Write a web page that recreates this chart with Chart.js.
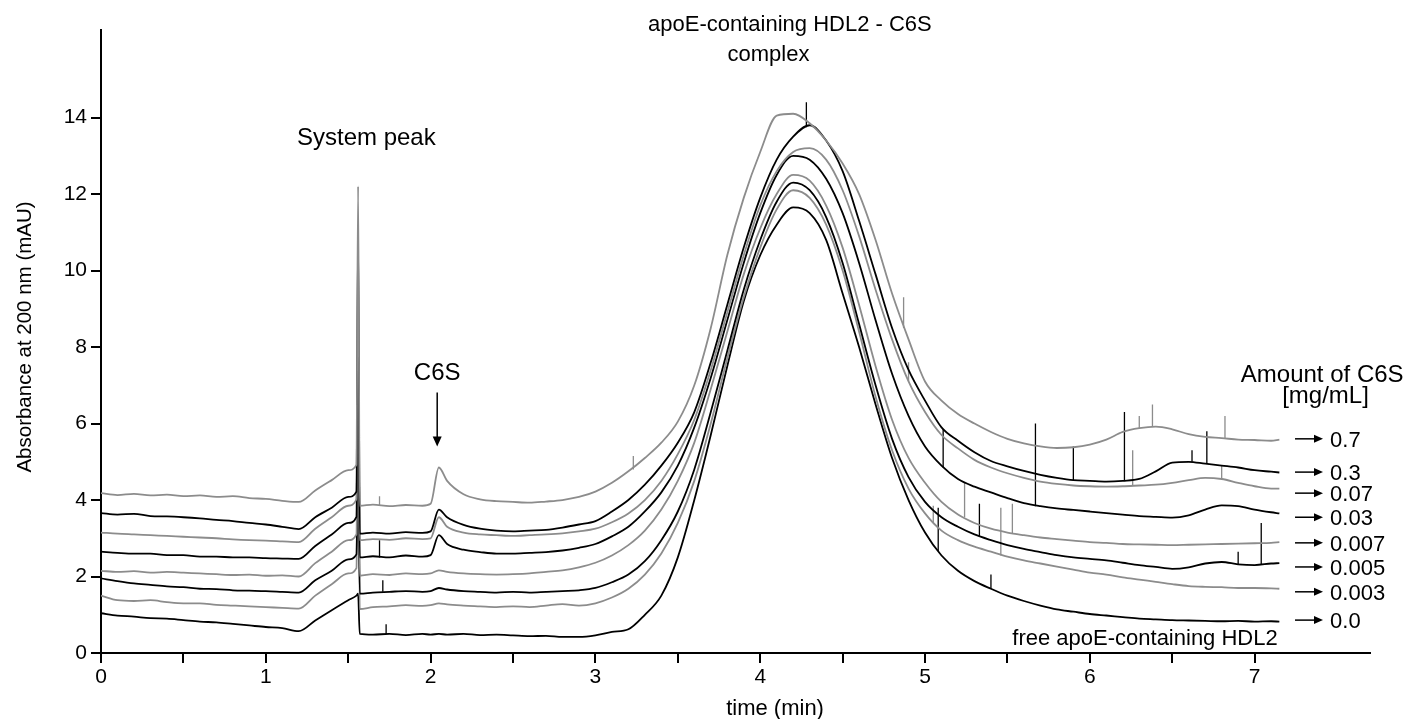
<!DOCTYPE html>
<html>
<head>
<meta charset="utf-8">
<title>apoE-containing HDL2 - C6S</title>
<script src="https://cdn.jsdelivr.net/npm/chart.js@4.4.1/dist/chart.umd.min.js"></script>
<style>
  html, body { margin: 0; padding: 0; background: #fff; }
  #wrap { width: 1409px; height: 719px; }
</style>
</head>
<body>
<div id="wrap"><canvas id="chart" width="1409" height="719"></canvas></div>
<script>
// retention time (min), shared by all traces
const time = [
  0, 0.1, 0.2, 0.3, 0.4, 0.5, 0.6, 0.7, 0.8, 0.9, 1.0, 1.1, 1.2,
  1.3, 1.4, 1.5, 1.55, 1.56, 1.57,
  1.65, 1.75, 1.85, 1.95, 2.0, 2.05, 2.1, 2.2, 2.3, 2.4, 2.5, 2.6, 2.7, 2.8, 2.9, 3.0,
  3.1, 3.2, 3.3, 3.4, 3.5, 3.6, 3.7, 3.8, 3.9, 4.0, 4.1, 4.2, 4.3, 4.4, 4.5, 4.6, 4.7, 4.8, 4.9, 5.0,
  5.1, 5.2, 5.3, 5.4, 5.5, 5.6, 5.7, 5.8, 5.9, 6.0, 6.1, 6.2, 6.3, 6.4, 6.5, 6.6, 6.7, 6.8, 6.9, 7.0, 7.1, 7.15
];

// amount of C6S [mg/mL], top trace first
const amounts = ['0.7', '0.3', '0.07', '0.03', '0.007', '0.005', '0.003', '0.0'];

// absorbance at 200 nm (mAU), one array per trace
const trace07 = [
  4.18, 4.13, 4.16, 4.12, 4.14, 4.10, 4.12, 4.08, 4.10, 4.05, 4.03, 3.98, 3.95,
  4.25, 4.52, 4.78, 4.92, 12.2, 3.85,
  3.88, 3.84, 3.87, 3.85, 3.9, 4.85, 4.5, 4.15, 4.02, 3.97, 3.95, 3.93, 3.96, 4.0, 4.08, 4.22,
  4.45, 4.75, 5.1, 5.5, 6.05, 7.0, 8.5, 10.4, 11.9, 13.1, 14.05, 14.1, 13.85, 13.4, 12.8, 12.0, 10.8, 9.4, 8.2, 7.1,
  6.6, 6.25, 6.0, 5.78, 5.6, 5.48, 5.4, 5.36, 5.38, 5.45, 5.58, 5.78, 5.88, 5.92, 5.85, 5.72, 5.65, 5.62, 5.58, 5.57, 5.55, 5.58
];
const trace03 = [
  3.66, 3.62, 3.64, 3.58, 3.57, 3.55, 3.52, 3.48, 3.45, 3.40, 3.36, 3.30, 3.24,
  3.55, 3.8, 4.08, 4.22, 11.0, 3.12,
  3.15, 3.12, 3.16, 3.14, 3.18, 3.75, 3.55, 3.35, 3.25, 3.2, 3.18, 3.2, 3.22, 3.28, 3.36, 3.45,
  3.7, 4.0, 4.4, 4.9, 5.5, 6.3, 7.6, 9.1, 10.6, 11.9, 12.9, 13.5, 13.8, 13.4, 12.6, 11.3, 9.9, 8.5, 7.4, 6.6,
  5.9, 5.55, 5.25, 5.02, 4.88, 4.76, 4.66, 4.58, 4.52, 4.5, 4.48, 4.5, 4.55, 4.75, 4.98, 5.0, 4.95, 4.9, 4.85, 4.78, 4.74, 4.72
];
const trace007 = [
  3.15, 3.12, 3.1, 3.08, 3.06, 3.04, 3.02, 3.0, 2.97, 2.95, 2.94, 2.92, 2.9,
  3.25, 3.55, 3.85, 4.02, 7.5, 2.95,
  2.98, 2.96, 3.0, 2.98, 3.0, 3.55, 3.3, 3.15, 3.1, 3.08, 3.06, 3.08, 3.1, 3.13, 3.18, 3.25,
  3.42, 3.65, 4.0, 4.5, 5.2, 6.1, 7.4, 8.9, 10.4, 11.7, 12.6, 13.1, 13.2, 12.9, 12.1, 10.9, 9.5, 8.2, 7.1, 6.3,
  5.7, 5.35, 5.05, 4.85, 4.7, 4.58, 4.48, 4.42, 4.38, 4.36, 4.35, 4.36, 4.38, 4.4, 4.45, 4.52, 4.58, 4.55, 4.45, 4.36, 4.3, 4.3
];
const trace003 = [
  2.65, 2.62, 2.6, 2.6, 2.56, 2.56, 2.52, 2.52, 2.5, 2.5, 2.48, 2.47, 2.46,
  2.8, 3.1, 3.4, 3.56, 8.6, 2.5,
  2.53, 2.5, 2.55, 2.52, 2.56, 3.08, 2.85, 2.7, 2.64, 2.6, 2.6, 2.62, 2.64, 2.68, 2.75, 2.85,
  3.05, 3.3, 3.7, 4.2, 4.9, 5.9, 7.2, 8.7, 10.2, 11.5, 12.5, 13.0, 12.9, 12.4, 11.5, 10.2, 8.7, 7.3, 6.2, 5.4,
  4.9, 4.55, 4.35, 4.2, 4.05, 3.92, 3.84, 3.78, 3.74, 3.7, 3.66, 3.62, 3.58, 3.56, 3.54, 3.6, 3.75, 3.86, 3.84, 3.75, 3.68, 3.65
];
const trace0007 = [
  2.15, 2.12, 2.14, 2.1, 2.12, 2.1, 2.08, 2.06, 2.04, 2.05, 2.02, 2.03, 2.0,
  2.35, 2.65, 2.95, 3.1, 6.5, 2.02,
  2.06, 2.04, 2.08, 2.06, 2.08, 2.16, 2.12, 2.08, 2.06, 2.05, 2.06, 2.08, 2.12, 2.16, 2.24, 2.36,
  2.55, 2.82, 3.2, 3.75, 4.5, 5.5, 6.9, 8.4, 9.9, 11.1, 12.0, 12.5, 12.35, 11.7, 10.6, 9.1, 7.5, 6.1, 5.1, 4.45,
  3.95, 3.62, 3.4, 3.25, 3.15, 3.08, 3.02, 2.98, 2.94, 2.9, 2.88, 2.85, 2.84, 2.83, 2.82, 2.83, 2.84, 2.85, 2.86, 2.87, 2.88, 2.9
];
const trace0005 = [
  1.95, 1.88, 1.82, 1.78, 1.74, 1.72, 1.68, 1.67, 1.64, 1.63, 1.62, 1.6, 1.58,
  1.9, 2.15, 2.45, 2.58, 5.3, 1.55,
  1.58, 1.6, 1.62, 1.6, 1.62, 1.7, 1.66, 1.62, 1.6, 1.58, 1.6, 1.58, 1.6, 1.62, 1.64, 1.7,
  1.85, 2.05, 2.4, 2.95, 3.7, 4.8, 6.3, 7.9, 9.5, 10.8, 11.8, 12.3, 12.1, 11.4, 10.2, 8.6, 7.0, 5.6, 4.6, 3.95,
  3.55, 3.3, 3.1, 2.95, 2.82, 2.72, 2.64, 2.56, 2.5, 2.46, 2.42, 2.36, 2.3, 2.25, 2.2, 2.24, 2.34, 2.38, 2.32, 2.3, 2.34, 2.35
];
const trace0003 = [
  1.5, 1.38, 1.36, 1.38, 1.33, 1.3, 1.3, 1.26, 1.24, 1.22, 1.2, 1.18, 1.16,
  1.5, 1.8, 2.08, 2.22, 6.0, 1.15,
  1.2, 1.22, 1.25, 1.23, 1.25, 1.3, 1.27, 1.24, 1.22, 1.2, 1.22, 1.2, 1.24, 1.28, 1.24, 1.3,
  1.45, 1.68, 2.05, 2.6, 3.4, 4.5, 6.0, 7.7, 9.3, 10.6, 11.6, 12.1, 11.9, 11.2, 10.0, 8.4, 6.7, 5.3, 4.3, 3.65,
  3.2, 2.95, 2.78, 2.65, 2.52, 2.42, 2.34, 2.26, 2.18, 2.1, 2.05, 1.98, 1.92, 1.86, 1.8, 1.75, 1.73, 1.72, 1.7, 1.7, 1.69, 1.68
];
const trace0 = [
  1.04, 0.98, 0.95, 0.91, 0.9, 0.86, 0.82, 0.8, 0.76, 0.72, 0.68, 0.65, 0.57,
  0.85, 1.12, 1.38, 1.5, 1.55, 0.5,
  0.48, 0.5, 0.47, 0.5, 0.48, 0.5, 0.48, 0.5, 0.47, 0.48, 0.46, 0.44, 0.45, 0.42, 0.42, 0.46,
  0.55, 0.62, 1.0, 1.5, 2.5, 4.0, 5.7, 7.5, 9.2, 10.4, 11.2, 11.65, 11.5, 10.8, 9.4, 8.0, 6.5, 5.1, 4.0, 3.15,
  2.55, 2.15, 1.88, 1.68, 1.5, 1.36, 1.24, 1.14, 1.08, 1.02, 0.98, 0.94, 0.9, 0.88, 0.86, 0.85, 0.84, 0.83, 0.84, 0.82, 0.83, 0.82
];

// detector spikes: [time, from, to]
const spikes07 = [[1.69, 3.86, 4.1], [3.23, 4.8, 5.15], [4.87, 8.5, 9.3], [6.3, 5.88, 6.2], [6.38, 5.92, 6.5], [6.82, 5.6, 6.2]];
const spikes03 = [[4.28, 13.75, 14.4], [5.9, 4.52, 5.4], [6.21, 4.5, 6.3], [6.62, 5.0, 5.3], [6.71, 4.95, 5.8]];
const spikes007 = [[4.9, 7.1, 7.6], [6.26, 4.37, 5.3], [6.8, 4.55, 4.9]];
const spikes003 = [[1.69, 2.5, 2.95], [5.11, 4.85, 5.85], [5.67, 3.84, 6.0]];
const spikes0007 = [[5.24, 3.55, 4.45], [5.53, 3.12, 3.9]];
const spikes0005 = [[1.71, 1.6, 1.9], [5.33, 3.05, 3.9], [6.9, 2.3, 2.65], [7.04, 2.32, 3.4]];
const spikes0003 = [[5.05, 3.4, 3.85], [5.46, 2.55, 3.8]];
const spikes0 = [[1.73, 0.5, 0.75], [5.08, 2.67, 3.8], [5.4, 1.68, 2.05]];

const traces = [trace07, trace03, trace007, trace003, trace0007, trace0005, trace0003, trace0];
const spikes = [spikes07, spikes03, spikes007, spikes003, spikes0007, spikes0005, spikes0003, spikes0];

const GRAY = '#8c8c8c';
const BLACK = '#000000';
const FONT = '"Liberation Sans", Arial, Helvetica, sans-serif';

const datasets = [];
traces.forEach((tr, i) => {
  const color = i % 2 === 0 ? GRAY : BLACK;
  datasets.push({
    label: amounts[i],
    data: time.map((t, k) => ({ x: t, y: tr[k] })),
    borderColor: color,
    borderWidth: 1.8,
    cubicInterpolationMode: 'monotone',
    pointRadius: 0
  });
  const sp = [];
  for (const s of spikes[i]) {
    sp.push({ x: s[0], y: s[1] }, { x: s[0], y: s[2] }, { x: s[0], y: null });
  }
  datasets.push({
    label: amounts[i] + ' spikes',
    data: sp,
    borderColor: color,
    borderWidth: 1.3,
    spanGaps: false,
    pointRadius: 0
  });
});

// text, arrows and amount labels
const notes = {
  id: 'notes',
  afterDraw(chart) {
    const ctx = chart.ctx;
    const xs = v => chart.scales.x.getPixelForValue(v);
    const ys = v => chart.scales.y.getPixelForValue(v);
    ctx.save();
    ctx.fillStyle = '#000';
    ctx.strokeStyle = '#000';
    ctx.textBaseline = 'alphabetic';
    ctx.textAlign = 'center';

    ctx.font = '22px ' + FONT;
    ctx.fillText('apoE-containing HDL2 - C6S', xs(4.18), ys(16.27));
    ctx.fillText('complex', xs(4.05), ys(15.48));
    ctx.fillText('time (min)', xs(4.09), ys(-1.61));
    ctx.font = '24px ' + FONT;
    ctx.fillText('System peak', xs(1.61), ys(13.29));
    ctx.fillText('C6S', xs(2.04), ys(7.14));
    ctx.fillText('Amount of C6S', xs(7.41), ys(7.09));
    ctx.fillText('[mg/mL]', xs(7.43), ys(6.54));
    ctx.font = '22px ' + FONT;
    ctx.textAlign = 'right';
    ctx.fillText('free apoE-containing HDL2', xs(7.14), ys(0.21));

    // C6S arrow
    const ax = xs(2.04);
    ctx.lineWidth = 1.5;
    ctx.beginPath();
    ctx.moveTo(ax, ys(6.81));
    ctx.lineTo(ax, ys(5.4) - 8);
    ctx.stroke();
    ctx.beginPath();
    ctx.moveTo(ax, ys(5.4));
    ctx.lineTo(ax - 4.5, ys(5.4) - 10);
    ctx.lineTo(ax + 4.5, ys(5.4) - 10);
    ctx.closePath();
    ctx.fill();

    // amount labels with arrows
    const levels = [5.6, 4.73, 4.18, 3.55, 2.88, 2.25, 1.6, 0.86];
    ctx.textAlign = 'left';
    levels.forEach((lv, i) => {
      const y = ys(lv);
      const x0 = xs(7.245), x1 = xs(7.415);
      ctx.beginPath();
      ctx.moveTo(x0, y);
      ctx.lineTo(x1 - 6, y);
      ctx.stroke();
      ctx.beginPath();
      ctx.moveTo(x1, y);
      ctx.lineTo(x1 - 9, y - 4);
      ctx.lineTo(x1 - 9, y + 4);
      ctx.closePath();
      ctx.fill();
      ctx.fillText(amounts[i], xs(7.458), y + 8);
    });

    // y axis title
    ctx.font = '20.5px ' + FONT;
    ctx.translate(31, 337);
    ctx.rotate(-Math.PI / 2);
    ctx.textAlign = 'center';
    ctx.fillText('Absorbance at 200 nm (mAU)', 0, 0);
    ctx.restore();
  }
};

new Chart(document.getElementById('chart'), {
  type: 'line',
  data: { datasets: datasets },
  options: {
    responsive: false,
    animation: false,
    devicePixelRatio: 1,
    layout: { padding: { left: 0, top: 30, right: 39, bottom: 0 } },
    plugins: { legend: { display: false }, tooltip: { enabled: false } },
    scales: {
      x: {
        type: 'linear',
        min: 0,
        max: 7.7,
        afterFit: s => { s.height = 66; },
        afterBuildTicks: s => { s.ticks = s.ticks.filter(t => t.value <= 7.01); },
        ticks: {
          stepSize: 0.5,
          includeBounds: false,
          autoSkip: false,
          maxRotation: 0,
          padding: 2,
          color: '#000',
          font: { family: FONT, size: 21 },
          callback: v => (Math.abs(v - Math.round(v)) < 1e-6 ? String(Math.round(v)) : '')
        },
        grid: { drawOnChartArea: false, drawTicks: true, tickLength: 10, color: '#000', lineWidth: 2 },
        border: { display: true, color: '#000', width: 2 }
      },
      y: {
        min: 0,
        max: 16.29,
        afterFit: s => { s.width = 101; },
        afterBuildTicks: s => { s.ticks = s.ticks.filter(t => t.value <= 14.01); },
        ticks: {
          stepSize: 2,
          includeBounds: false,
          padding: 4,
          color: '#000',
          font: { family: FONT, size: 21 }
        },
        grid: { drawOnChartArea: false, drawTicks: true, tickLength: 10, color: '#000', lineWidth: 2 },
        border: { display: true, color: '#000', width: 2 }
      }
    }
  },
  plugins: [notes]
});
</script>
</body>
</html>
